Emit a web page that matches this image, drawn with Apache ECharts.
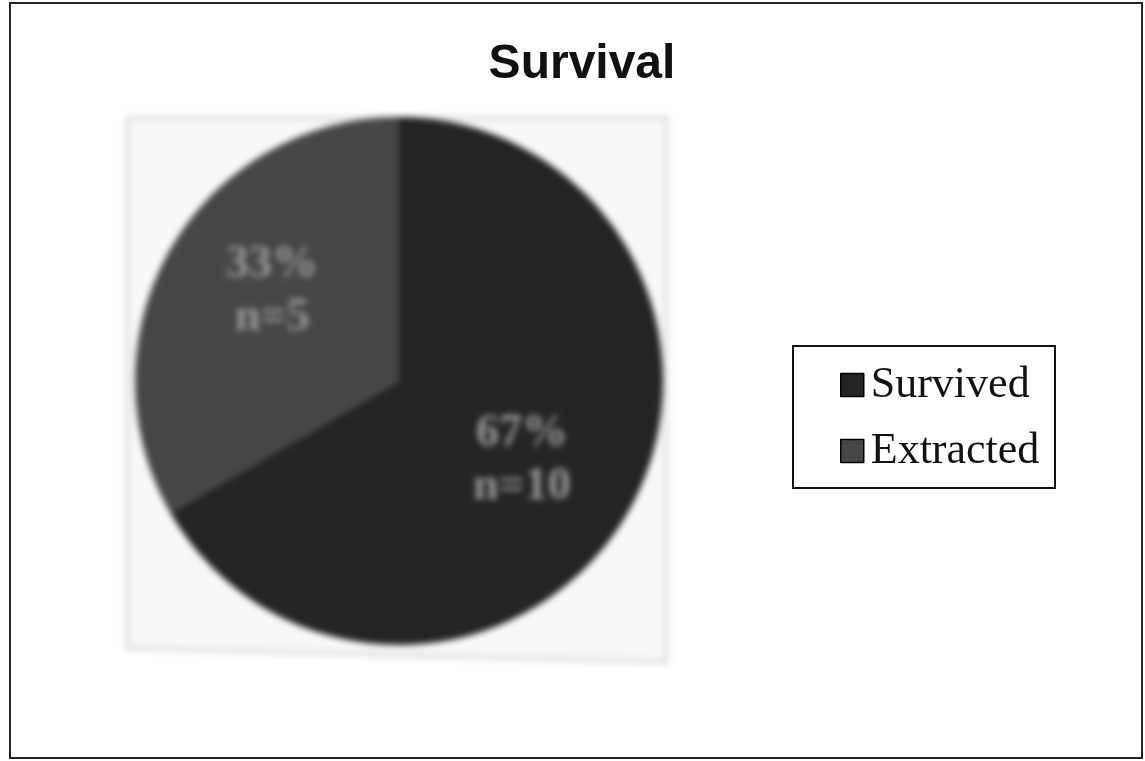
<!DOCTYPE html>
<html>
<head>
<meta charset="utf-8">
<script src="https://cdn.jsdelivr.net/npm/echarts@6/dist/echarts.min.js"></script>
<style>
  html, body { margin: 0; padding: 0; background: #ffffff; }
  #wrap { position: relative; width: 1145px; height: 761px; }
  #pie, #front { position: absolute; left: 0; top: 0; width: 1145px; height: 761px; }
  #pie { filter: blur(3px); }
</style>
</head>
<body>
<div id="wrap">
  <div id="pie"></div>
  <div id="front"></div>
</div>
<script>
// Survival outcome counts
const categories = ['Survived', 'Extracted'];
const counts = [10, 5];
const sliceColors = ['#242424', '#464646'];
const titleText = 'Survival';

// Nudges for the in-slice labels
const LABEL_NUDGE = { Survived: [6, 12], Extracted: [-10, -22] };

const pieData = categories.map((name, i) => ({
  name: name,
  value: counts[i],
  itemStyle: { color: sliceColors[i] },
  label: { offset: LABEL_NUDGE[name] }
}));

// Pie layer (soft, photographed look)
const pieChart = echarts.init(document.getElementById('pie'), null, { renderer: 'canvas' });
pieChart.setOption({
  animation: false,
  backgroundColor: 'transparent',
  graphic: [{
    type: 'polygon',
    z: -10,
    shape: { points: [[128, 118], [666, 118], [666, 662], [128, 648]] },
    style: { fill: '#f8f8f8', stroke: '#e2e2e2', lineWidth: 5 }
  }],
  series: [{
    type: 'pie',
    center: [399, 381],
    radius: 264,
    startAngle: 90,
    clockwise: true,
    percentPrecision: 0,
    silent: true,
    data: pieData,
    label: {
      show: true,
      position: 'inside',
      formatter: '{d}%\nn={c}',
      fontFamily: 'Liberation Serif',
      fontWeight: 'bold',
      fontSize: 46,
      lineHeight: 53,
      color: '#999999'
    },
    labelLine: { show: false },
    itemStyle: { borderWidth: 0 }
  }]
});

// Title, legend and frame layer
const frontChart = echarts.init(document.getElementById('front'), null, { renderer: 'canvas' });
frontChart.setOption({
  animation: false,
  backgroundColor: 'transparent',
  title: {
    text: titleText,
    left: 577,
    textAlign: 'center',
    top: 36,
    textStyle: {
      fontFamily: 'Liberation Sans',
      fontWeight: 'bold',
      fontSize: 48,
      color: '#111111'
    }
  },
  legend: {
    orient: 'vertical',
    left: 835,
    top: 358,
    itemWidth: 23,
    itemHeight: 23,
    itemGap: 22,
    icon: 'rect',
    data: categories.map((name, i) => ({
      name: name,
      itemStyle: { color: sliceColors[i], borderColor: '#000000', borderWidth: 1.5 }
    })),
    textStyle: {
      fontFamily: 'Liberation Serif',
      fontSize: 44,
      lineHeight: 44,
      color: '#111111',
      padding: [0, 0, 0, 2]
    }
  },
  series: [{
    type: 'pie',
    radius: 0,
    silent: true,
    label: { show: false },
    data: pieData.map(d => ({ name: d.name, value: d.value, itemStyle: { color: 'rgba(0,0,0,0)' } }))
  }],
  graphic: [
    {
      type: 'rect',
      shape: { x: 10, y: 3, width: 1132, height: 755 },
      style: { fill: 'none', stroke: '#222222', lineWidth: 2 }
    },
    {
      type: 'rect',
      shape: { x: 793, y: 346, width: 262, height: 142 },
      style: { fill: 'none', stroke: '#111111', lineWidth: 2 }
    }
  ]
});
</script>
</body>
</html>
